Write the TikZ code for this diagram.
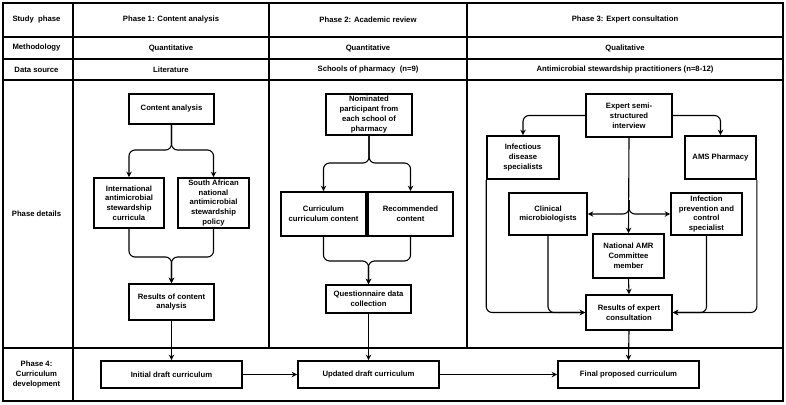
\documentclass[tikz,border=0pt]{standalone}
\usepackage{fontspec}
\setmainfont{Liberation Sans}
\usetikzlibrary{arrows.meta}
\newcommand\dfont{\fontsize{7.7}{9.8}\selectfont\bfseries}
\begin{document}
\begin{tikzpicture}[x=1pt,y=-1pt,
  tbl/.style={line width=1.8pt},
  box/.style={draw, line width=1.6pt, align=center, inner sep=1pt, font=\dfont},
  lbl/.style={align=center, inner sep=0pt, font=\dfont},
  arr/.style={line width=1.1pt, rounded corners=6pt, -{Stealth[length=5.5pt,width=5.5pt]}},
  ln/.style={line width=1.1pt, rounded corners=6pt},
]
\useasboundingbox (0,0) rectangle (786,404);
% table
\draw[tbl] (3,3) rectangle (783,401);
\draw[tbl] (3,37) -- (783,37);
\draw[tbl] (3,59) -- (783,59);
\draw[tbl] (3,80) -- (783,80);
\draw[tbl] (3,348) -- (783,348);
\draw[tbl] (73,3) -- (73,401);
\draw[tbl] (269,3) -- (269,348);
\draw[tbl] (467,3) -- (467,348);
% table labels
\node[lbl] (hstudy) at (36.5,20) {Study\ \ phase};
\node[lbl] (hmeth) at (36.5,48) {Methodology};
\node[lbl] (hdata) at (36.5,69.5) {Data source};
\node[lbl] (hdet) at (36.5,214) {Phase details};
\node[lbl] (hp4) at (36.5,374.5) {Phase 4:\\Curriculum\\development};
\node[lbl] (p1) at (171,20) {Phase 1: Content analysis};
\node[lbl] (p2) at (368,20) {Phase 2: Academic review};
\node[lbl] (p3) at (625,20) {Phase 3: Expert consultation};
\node[lbl] (m1) at (171,48) {Quantitative};
\node[lbl] (m2) at (368,48) {Quantitative};
\node[lbl] (m3) at (625,48) {Qualitative};
\node[lbl] (d1) at (171,69.5) {Literature};
\node[lbl] (d2) at (368,69.5) {Schools of pharmacy\ \ (n=9)};
\node[lbl] (d3) at (625,69.5) {Antimicrobial stewardship practitioners (n=8-12)};
% phase 1
\node[box, minimum width=85pt, minimum height=30pt] (ca) at (171.5,109) {Content analysis};
\node[box, minimum width=70pt, minimum height=50pt] (intl) at (129,203) {International\\antimicrobial\\stewardship\\curricula};
\node[box, minimum width=71pt, minimum height=50pt] (sa) at (213.5,203) {South African\\national\\antimicrobial\\stewardship\\policy};
\node[box, minimum width=85pt, minimum height=36pt] (res1) at (171.5,302) {Results of content\\analysis};
% phase 2
\node[box, minimum width=86pt, minimum height=41pt] (nom) at (369,114.5) {Nominated\\participant from\\each school of\\pharmacy};
\node[box, minimum width=85pt, minimum height=44pt] (cur) at (323.5,214) {Curriculum\\curriculum content};
\node[box, minimum width=85pt, minimum height=44pt] (rec) at (410.5,214) {Recommended\\content};
\node[box, minimum width=85pt, minimum height=28pt] (quest) at (368.5,299) {Questionnaire data\\collection};
% phase 3
\node[box, minimum width=86pt, minimum height=43pt] (exp) at (629,115.5) {Expert semi-\\structured\\interview};
\node[box, minimum width=72pt, minimum height=43pt] (inf) at (523,157.5) {Infectious\\disease\\specialists};
\node[box, minimum width=71pt, minimum height=43pt] (ams) at (720.5,157.5) {AMS Pharmacy};
\node[box, minimum width=78pt, minimum height=42pt] (clin) at (548,214) {Clinical\\microbiologists};
\node[box, minimum width=71pt, minimum height=42pt] (infp) at (706.5,214) {Infection\\prevention and\\control\\specialist};
\node[box, minimum width=71pt, minimum height=44pt] (nat) at (628.5,256) {National AMR\\Committee\\member};
\node[box, minimum width=86pt, minimum height=35pt] (res3) at (629,312.5) {Results of expert\\consultation};
% phase 4
\node[box, minimum width=141pt, minimum height=27pt] (init) at (171.5,374.5) {Initial draft curriculum};
\node[box, minimum width=141pt, minimum height=27pt] (upd) at (368.5,374.5) {Updated draft curriculum};
\node[box, minimum width=141pt, minimum height=27pt] (final) at (628.5,374.5) {Final proposed curriculum};
% connectors phase 1
\draw[arr] (ca.south) -- (ca.south |- 0,150) -| (intl.north);
\draw[arr] (ca.south) -- (ca.south |- 0,150) -| (sa.north);
\draw[arr] (intl.south) |- (res1.north |- 0,257) -- (res1.north);
\draw[arr] (sa.south) |- (res1.north |- 0,257) -- (res1.north);
\draw[arr] (res1.south) -- (init.north);
% phase 2
\draw[arr] (nom.south) -- (nom.south |- 0,163) -| (cur.north);
\draw[arr] (nom.south) -- (nom.south |- 0,163) -| (rec.north);
\draw[arr] (cur.south) |- (quest.north |- 0,261) -- (quest.north);
\draw[arr] (rec.south) |- (quest.north |- 0,261) -- (quest.north);
\draw[arr] (quest.south) -- (upd.north);
% phase 3
\draw[arr] (exp.west) -| (inf.north);
\draw[arr] (exp.east) -| (ams.north);
\draw[arr] (exp.south) -- (nat.north);
\draw[arr] (exp.south |- 0,200) -- (exp.south |- 0,214) -- (clin.east);
\draw[arr] (exp.south |- 0,200) -- (exp.south |- 0,214) -- (infp.west);
\draw[arr] (inf.south west) |- (res3.west);
\draw[arr] (clin.south) |- (res3.west);
\draw[arr] (ams.south east) |- (res3.east);
\draw[arr] (infp.south) |- (res3.east);
\draw[arr] (nat.south) -- (res3.north);
\draw[arr] (res3.south) -- (final.north);
% phase 4
\draw[arr] (init.east) -- (upd.west);
\draw[arr] (upd.east) -- (final.west);
\end{tikzpicture}
\end{document}
